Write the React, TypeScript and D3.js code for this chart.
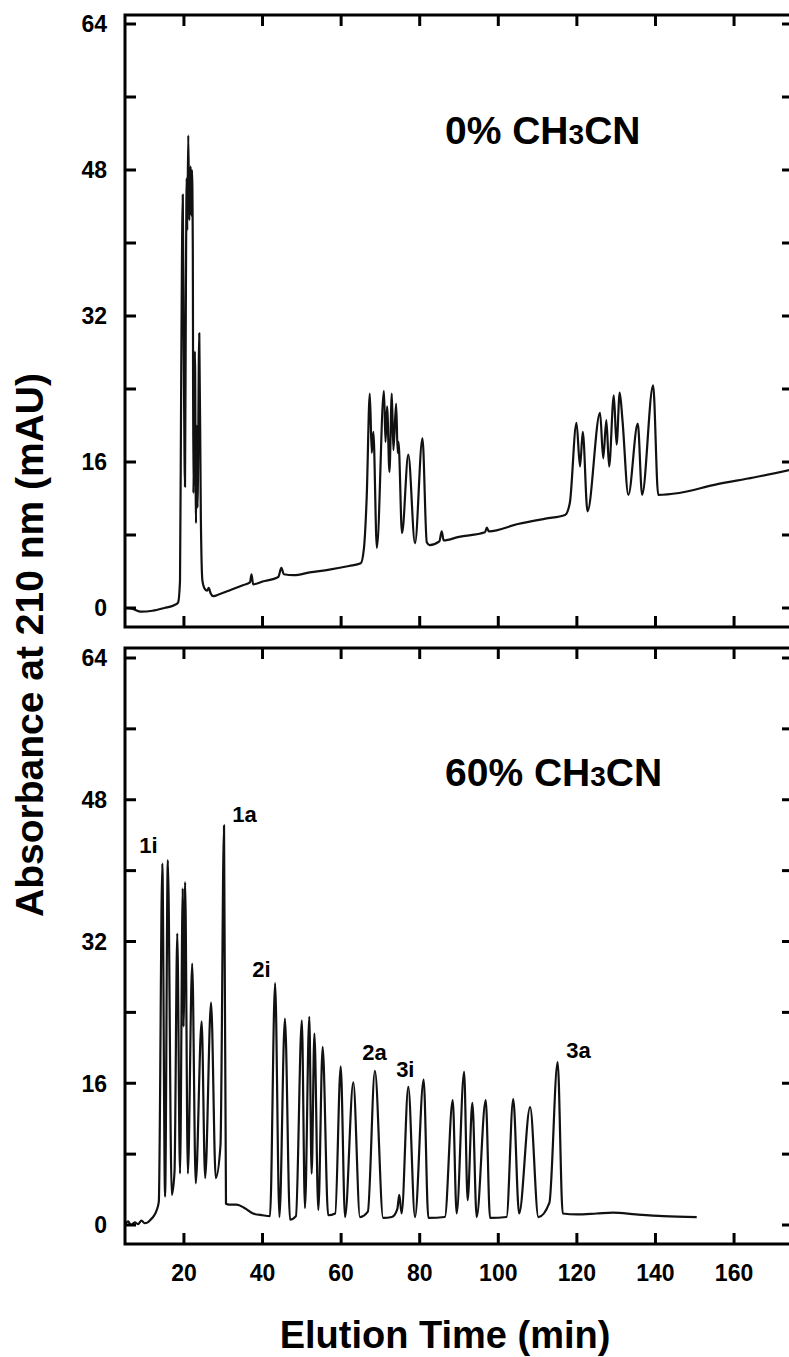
import React, { useEffect, useRef } from 'react';
import * as d3 from 'd3';

// traced chromatogram, 0% CH3CN  [time (min), absorbance (mAU)]
const topTrace: [number, number][] = [
  [5, 0.0], [7, -0.1], [9, -0.4], [12, -0.3], [15, 0.0], [17.5, 0.3], [18.5, 0.6], [19.0, 3],
  [19.3, 25], [19.7, 45.3], [20.0, 25], [20.27, 13.3], [20.5, 35], [20.7, 47.1], [20.85, 41.4],
  [21.1, 51.8], [21.37, 42.5], [21.7, 48.4], [21.85, 43], [22.05, 48], [22.25, 40], [22.4, 12.6],
  [22.8, 28.1], [23.07, 9.3], [23.3, 20], [23.45, 11], [23.9, 30.1], [24.3, 10], [24.7, 3.0],
  [25.3, 2.1], [25.9, 1.9], [26.3, 2.2], [26.8, 1.6], [27.5, 1.3], [29, 1.5], [32, 2.0], [35, 2.5],
  [36.8, 2.8], [37.2, 3.7], [37.6, 2.6], [40, 2.9], [44.0, 3.4], [44.8, 4.4], [45.4, 3.7], [48, 3.6],
  [52, 3.9], [57, 4.2], [62, 4.6], [65, 4.9], [65.8, 6.5], [66.5, 12], [67.3, 23.5], [67.8, 17.0],
  [68.2, 19.3], [69.1, 6.6], [70.9, 23.8], [71.3, 18.2], [71.7, 22.1], [72.3, 14.9], [72.9, 23.5],
  [73.3, 17.3], [74.0, 22.4], [74.4, 17.0], [74.6, 18.2], [75.5, 8.2], [77.1, 16.8], [78.8, 7.1],
  [80.7, 18.6], [81.8, 7.2], [82.5, 6.9], [85.0, 7.3], [85.6, 8.4], [86.1, 7.4], [90, 7.8],
  [96.6, 8.3], [97.1, 8.8], [97.6, 8.4], [105, 9.2], [112, 9.8], [117, 10.2], [118.2, 11.5],
  [119.9, 20.3], [120.8, 15.5], [121.5, 19.3], [122.7, 10.6], [125.9, 21.4], [126.7, 16.4],
  [127.5, 20.6], [128.2, 15.5], [129.4, 23.3], [130.1, 17.9], [130.9, 23.6], [131.6, 20.6],
  [133.1, 12.4], [135.5, 20.2], [136.6, 12.4], [139.4, 24.4], [140.7, 12.4], [146, 12.6],
  [155, 13.5], [165, 14.3], [175, 15.2],
];

// traced chromatogram, 60% CH3CN
const bottomTrace: [number, number][] = [
  [5, 0.1], [5.8, 0.4], [6.5, 0.0], [7.5, 0.3], [8.3, 0.1], [9.2, 0.5], [10.0, 0.2], [10.8, 0.3],
  [11.5, 0.6], [12.3, 1.0], [13.0, 1.6], [13.6, 2.6], [14.5, 40.8], [15.2, 3.2], [15.9, 41.2],
  [16.9, 3.4], [17.6, 6], [18.3, 32.9], [19.0, 5.8], [19.7, 38.0], [19.9, 22.4], [20.3, 38.7],
  [21.0, 5.8], [22.1, 29.5], [23.0, 4.7], [24.5, 23.0], [25.4, 5.3], [26.9, 25.1], [28.1, 5.3],
  [29.3, 9], [30.2, 45.1], [30.7, 2.4], [31.5, 2.3], [33.4, 2.3], [35.5, 1.9], [37.6, 1.3],
  [40.0, 1.1], [41.9, 1.0], [43.2, 27.3], [44.3, 0.9], [45.7, 23.3], [47.0, 0.6], [48.5, 1.0],
  [50.0, 23.1], [50.8, 1.9], [51.9, 23.5], [52.5, 5.8], [53.2, 21.6], [54.2, 1.7], [55.3, 20.1],
  [56.7, 1.1], [58.5, 1.3], [59.9, 17.9], [61.0, 0.9], [63.1, 16.1], [64.8, 0.9], [66.8, 1.5],
  [68.6, 17.4], [70.7, 0.8], [72.9, 0.9], [74.3, 1.8], [74.8, 3.4], [75.4, 1.3], [77.1, 15.6],
  [78.8, 0.9], [81.0, 16.4], [82.2, 0.8], [86.4, 0.9], [88.4, 14.1], [89.4, 1.3], [91.3, 17.3],
  [92.2, 2.8], [93.4, 13.8], [94.5, 0.9], [96.8, 14.1], [97.9, 0.8], [102.1, 0.9], [103.8, 14.2],
  [105.3, 1.3], [108.1, 13.3], [110.2, 0.9], [113, 2.5], [115.1, 18.4], [116.4, 1.3], [120, 1.2],
  [125, 1.3], [129.2, 1.4], [135, 1.2], [142, 1.0], [150.5, 0.9],
];

const timeTicks = [20, 40, 60, 80, 100, 120, 140, 160];
const absTicks = [0, 8, 16, 24, 32, 40, 48, 56, 64];
const absLabels = [0, 16, 32, 48, 64];
const panelTitles = ['0%', '60%'];

// peak labels, placed at [time, absorbance] of their lower-left corner
const peakLabels = [
  { text: '1i', time: 8.6, abs: 42.0 },
  { text: '1a', time: 32.3, abs: 45.5 },
  { text: '2i', time: 37.4, abs: 28.0 },
  { text: '2a', time: 65.4, abs: 18.6 },
  { text: '3i', time: 74.0, abs: 16.7 },
  { text: '3a', time: 117.3, abs: 18.8 },
];

const FONT = '"Liberation Sans", Arial, Helvetica, sans-serif';

const App = () => {
  const ref = useRef<SVGSVGElement>(null);

  useEffect(() => {
    drawChart();
  }, []);

  const drawChart = () => {
    const svg = d3.select(ref.current);
    svg.selectAll('*').remove();

    const x = d3.scaleLinear().domain([5, 175]).range([125, 793]);

    const panels = [
      { trace: topTrace, top: 15, bottom: 627, y: d3.scaleLinear().domain([0, 64]).range([608, 24]), title: panelTitles[0], titleY: 144 },
      { trace: bottomTrace, top: 648, bottom: 1244, y: d3.scaleLinear().domain([0, 64]).range([1225, 658]), title: panelTitles[1], titleY: 786 },
    ];

    const left = x.range()[0];
    const right = x.range()[1];
    const tickLen = 11;

    panels.forEach((p, i) => {
      const g = svg.append('g');

      // clip so the trace stays inside the frame
      g.append('clipPath').attr('id', `clip${i}`)
        .append('rect')
        .attr('x', left).attr('y', p.top)
        .attr('width', right - left).attr('height', p.bottom - p.top);

      const line = d3.line<[number, number]>()
        .x(d => x(d[0]))
        .y(d => p.y(d[1]))
        .curve(d3.curveMonotoneX);

      g.append('path')
        .datum(p.trace)
        .attr('clip-path', `url(#clip${i})`)
        .attr('fill', 'none')
        .attr('stroke', '#111')
        .attr('stroke-width', 2.2)
        .attr('stroke-linejoin', 'round')
        .attr('d', line);

      // frame
      g.append('rect')
        .attr('x', left).attr('y', p.top)
        .attr('width', right - left).attr('height', p.bottom - p.top)
        .attr('fill', 'none').attr('stroke', '#000').attr('stroke-width', 3);

      // inward ticks
      const ticks = g.append('g').attr('stroke', '#000').attr('stroke-width', 3);
      absTicks.forEach(v => {
        ticks.append('line').attr('x1', left).attr('x2', left + tickLen).attr('y1', p.y(v)).attr('y2', p.y(v));
        ticks.append('line').attr('x1', right - tickLen).attr('x2', right).attr('y1', p.y(v)).attr('y2', p.y(v));
      });
      timeTicks.forEach(t => {
        ticks.append('line').attr('x1', x(t)).attr('x2', x(t)).attr('y1', p.top).attr('y2', p.top + tickLen);
        ticks.append('line').attr('x1', x(t)).attr('x2', x(t)).attr('y1', p.bottom - tickLen).attr('y2', p.bottom);
      });

      g.selectAll('.ylab')
        .data(absLabels)
        .enter()
        .append('text')
        .attr('x', 107)
        .attr('y', d => p.y(d))
        .attr('dy', '0.36em')
        .attr('text-anchor', 'end')
        .attr('font-family', FONT)
        .attr('font-weight', 'bold')
        .attr('font-size', 23)
        .text(d => d);

      // panel title
      const title = g.append('text')
        .attr('x', 445)
        .attr('y', p.titleY)
        .attr('font-family', FONT)
        .attr('font-weight', 'bold')
        .attr('font-size', 39);
      title.append('tspan').text(`${p.title} CH`);
      title.append('tspan').attr('font-size', 28).text('3');
      title.append('tspan').text('CN');
    });

    // time labels under the lower panel
    const lower = panels[1];
    svg.append('g')
      .selectAll('text')
      .data(timeTicks)
      .enter()
      .append('text')
      .attr('x', d => x(d))
      .attr('y', lower.bottom + 37)
      .attr('text-anchor', 'middle')
      .attr('font-family', FONT)
      .attr('font-weight', 'bold')
      .attr('font-size', 23)
      .text(d => d);

    svg.append('g')
      .selectAll('text')
      .data(peakLabels)
      .enter()
      .append('text')
      .attr('x', d => x(d.time))
      .attr('y', d => lower.y(d.abs))
      .attr('font-family', FONT)
      .attr('font-weight', 'bold')
      .attr('font-size', 22)
      .text(d => d.text);

    // axis titles
    svg.append('text')
      .attr('x', 445)
      .attr('y', 1348)
      .attr('text-anchor', 'middle')
      .attr('font-family', FONT)
      .attr('font-weight', 'bold')
      .attr('font-size', 38)
      .text('Elution Time (min)');

    svg.append('text')
      .attr('transform', 'translate(43,645) rotate(-90)')
      .attr('text-anchor', 'middle')
      .attr('font-family', FONT)
      .attr('font-weight', 'bold')
      .attr('font-size', 39)
      .text('Absorbance at 210 nm (mAU)');
  };

  return (
    <svg
      ref={ref}
      width={789}
      height={1357}
      style={{ position: 'absolute', left: 0, top: 0, background: '#fff' }}
    />
  );
};

export default App;
